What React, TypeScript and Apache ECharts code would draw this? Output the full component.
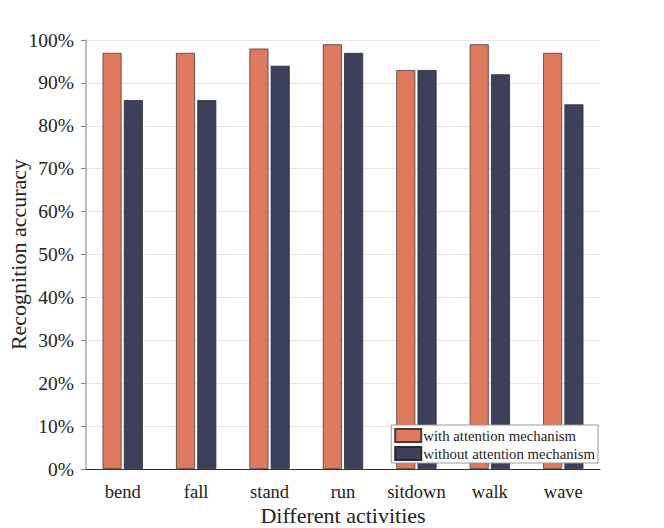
import React, { useEffect, useRef } from "react";
import * as echarts from "echarts";

const categories = ["bend", "fall", "stand", "run", "sitdown", "walk", "wave"];
const withAttention = [97, 97, 98, 99, 93, 99, 97];
const withoutAttention = [86, 86, 94, 97, 93, 92, 85];
const seriesNames = ["with attention mechanism", "without attention mechanism"];

const FONT = "Liberation Serif";

export default function App() {
  const ref = useRef<HTMLDivElement>(null);
  useEffect(() => {
    if (!ref.current) return;
    const chart = echarts.init(ref.current, undefined, { renderer: "svg" });
    chart.setOption({
      animation: false,
      textStyle: { fontFamily: FONT },
      grid: { left: 86, right: 64, top: 40, bottom: 59, outerBoundsMode: "none", containLabel: false },
      legend: {
        orient: "vertical",
        right: 66,
        bottom: 65,
        icon: "rect",
        itemWidth: 26,
        itemHeight: 13,
        itemGap: 3,
        padding: [3, 3, 2, 3],
        borderColor: "#999",
        borderWidth: 1,
        borderRadius: 0,
        backgroundColor: "#fff",
        textStyle: { fontFamily: FONT, fontSize: 14.8, color: "#222", padding: [0, 0, 0, -3] },
        data: seriesNames,
      },
      xAxis: {
        type: "category",
        data: categories,
        name: "Different activities",
        nameLocation: "middle",
        nameGap: 35,
        nameMoveOverlap: false,
        nameTextStyle: { fontFamily: FONT, fontSize: 22, color: "#222" },
        axisLine: { lineStyle: { color: "#333", width: 1 } },
        axisTick: { alignWithLabel: true, length: 5, interval: 0, lineStyle: { color: "#888" } },
        axisLabel: { fontFamily: FONT, fontSize: 18.5, color: "#222", margin: 13, interval: 0 },
        splitLine: { show: false },
      },
      yAxis: {
        type: "value",
        min: 0,
        max: 100,
        interval: 10,
        name: "Recognition accuracy",
        nameLocation: "middle",
        nameGap: 57,
        nameMoveOverlap: false,
        nameTextStyle: { fontFamily: FONT, fontSize: 22, color: "#222" },
        axisLine: { show: true, lineStyle: { color: "#aaa", width: 1.5 } },
        axisTick: { show: true, length: 5, lineStyle: { color: "#888" } },
        axisLabel: { fontFamily: FONT, fontSize: 19.5, color: "#222", margin: 12, formatter: "{value}%" },
        splitLine: { show: true, lineStyle: { color: "#e6e6e6", width: 1 } },
      },
      series: [
        {
          name: seriesNames[0],
          type: "bar",
          data: withAttention,
          barWidth: 19,
          barGap: "12%",
          itemStyle: { color: "#E07A5F", borderColor: "#4a3a36", borderWidth: 0.8 },
        },
        {
          name: seriesNames[1],
          type: "bar",
          data: withoutAttention,
          barWidth: 19,
          itemStyle: { color: "#3D405B", borderColor: "#2a2a35", borderWidth: 0.8 },
        },
      ],
    });
    return () => chart.dispose();
  }, []);
  return <div ref={ref} style={{ position: "absolute", left: 0, top: 0, width: 664, height: 528 }} />;
}
